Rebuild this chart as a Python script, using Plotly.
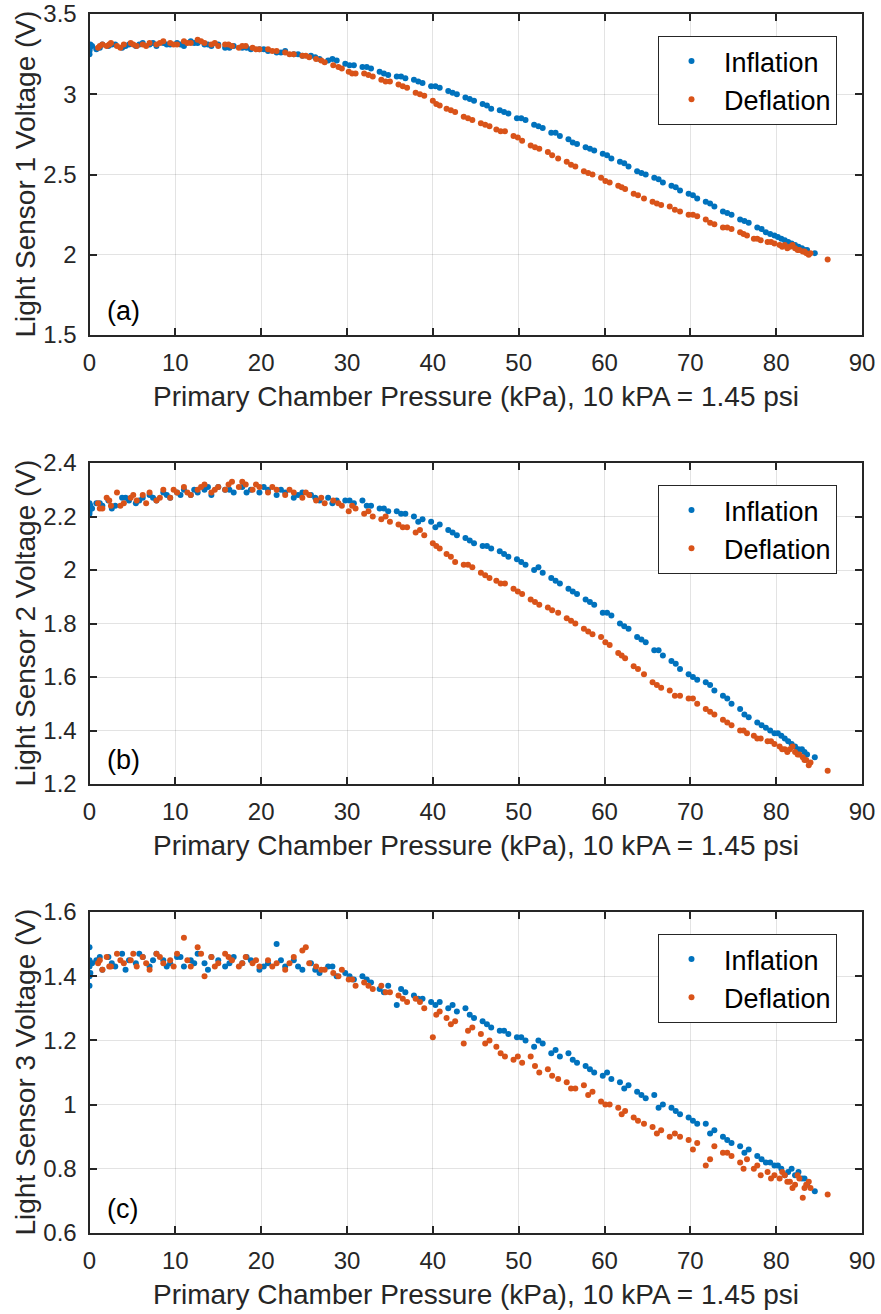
import plotly.graph_objects as go

# ---------------- data ----------------
pressure_inflation = [0.0, 0.0, 0.0, 0.3, 0.8, 1.5, 2.2, 3.0, 3.8, 4.6,
                      5.4, 6.2, 7.0, 7.8, 8.6, 9.4, 10.2, 11.0, 11.8, 12.6,
                      13.4, 14.2, 15.0, 15.8, 16.8, 17.8, 18.8, 19.8, 20.8, 21.8,
                      22.8, 23.8, 24.8, 25.8, 26.8, 27.8, 28.8, 29.8, 30.8, 31.8,
                      32.8, 33.8, 34.8, 35.8, 36.8, 37.8, 38.8, 39.8, 40.8, 41.8,
                      42.8, 43.8, 44.8, 45.8, 46.8, 47.8, 48.8, 49.8, 50.8, 51.8,
                      52.8, 53.8, 54.8, 55.8, 56.8, 57.8, 58.8, 59.8, 60.8, 61.8,
                      62.8, 63.8, 64.8, 65.8, 66.8, 67.8, 68.8, 69.8, 70.8, 71.8,
                      72.8, 73.8, 74.8, 75.8, 76.8, 77.8, 78.8, 79.8, 80.6, 81.4,
                      82.2, 83.0, 83.6, 84.5,
                      0.0, 0.0, 0.1, 1.2, 2.6, 4.2, 5.8, 7.4, 9.0, 10.6,
                      12.2, 13.8, 16.3, 18.3, 20.3, 22.3, 24.3, 26.3, 28.3, 30.3,
                      32.3, 34.3, 36.3, 38.3, 40.3, 42.3, 44.3, 46.3, 48.3, 50.3,
                      52.3, 54.3, 56.3, 58.3, 60.3, 62.3, 64.3, 66.3, 68.3, 70.3,
                      72.3, 74.3, 76.3, 78.3, 79.3, 80.2, 81.0, 81.8, 82.6, 83.3]

sensor1_inflation = [3.27, 3.29, 3.25, 3.30, 3.28, 3.31, 3.30, 3.31, 3.29, 3.31,
                     3.30, 3.32, 3.31, 3.30, 3.32, 3.31, 3.32, 3.30, 3.33, 3.32,
                     3.31, 3.30, 3.31, 3.29, 3.30, 3.29, 3.28, 3.28, 3.27, 3.26,
                     3.27, 3.25, 3.24, 3.24, 3.22, 3.21, 3.21, 3.19, 3.18, 3.17,
                     3.16, 3.14, 3.12, 3.11, 3.10, 3.09, 3.07, 3.05, 3.04, 3.02,
                     3.00, 2.98, 2.96, 2.94, 2.91, 2.90, 2.88, 2.85, 2.84, 2.81,
                     2.79, 2.76, 2.74, 2.72, 2.69, 2.67, 2.65, 2.63, 2.60, 2.58,
                     2.55, 2.52, 2.50, 2.48, 2.45, 2.43, 2.40, 2.38, 2.35, 2.33,
                     2.30, 2.27, 2.25, 2.22, 2.20, 2.17, 2.14, 2.12, 2.10, 2.08,
                     2.06, 2.04, 2.03, 2.01,
                     3.30, 3.28, 3.31, 3.29, 3.31, 3.30, 3.31, 3.32, 3.31, 3.31,
                     3.32, 3.31, 3.29, 3.29, 3.28, 3.26, 3.25, 3.23, 3.22, 3.18,
                     3.17, 3.13, 3.11, 3.08, 3.05, 3.01, 2.97, 2.93, 2.89, 2.85,
                     2.80, 2.76, 2.70, 2.66, 2.62, 2.57, 2.51, 2.47, 2.42, 2.37,
                     2.32, 2.26, 2.21, 2.16, 2.13, 2.11, 2.09, 2.07, 2.05, 2.03]

sensor2_inflation = [2.22, 2.24, 2.25, 2.23, 2.25, 2.24, 2.26, 2.24, 2.27, 2.26,
                     2.25, 2.27, 2.28, 2.26, 2.29, 2.27, 2.29, 2.30, 2.28, 2.29,
                     2.30, 2.28, 2.31, 2.30, 2.29, 2.31, 2.30, 2.29, 2.30, 2.28,
                     2.29, 2.27, 2.29, 2.28, 2.26, 2.27, 2.26, 2.26, 2.25, 2.26,
                     2.24, 2.23, 2.22, 2.22, 2.21, 2.20, 2.19, 2.18, 2.17, 2.15,
                     2.13, 2.12, 2.10, 2.09, 2.08, 2.07, 2.05, 2.04, 2.02, 2.00,
                     1.99, 1.97, 1.95, 1.93, 1.91, 1.89, 1.87, 1.84, 1.83, 1.80,
                     1.78, 1.75, 1.73, 1.70, 1.68, 1.66, 1.63, 1.61, 1.59, 1.58,
                     1.55, 1.53, 1.50, 1.48, 1.45, 1.43, 1.41, 1.39, 1.38, 1.36,
                     1.34, 1.33, 1.31, 1.30,
                     2.23, 2.21, 2.24, 2.25, 2.23, 2.27, 2.26, 2.27, 2.28, 2.28,
                     2.30, 2.31, 2.30, 2.29, 2.31, 2.30, 2.28, 2.27, 2.25, 2.26,
                     2.24, 2.23, 2.21, 2.18, 2.16, 2.14, 2.11, 2.09, 2.06, 2.03,
                     2.01, 1.96, 1.92, 1.88, 1.84, 1.79, 1.74, 1.70, 1.65, 1.60,
                     1.57, 1.52, 1.46, 1.42, 1.40, 1.39, 1.37, 1.35, 1.33, 1.32]

sensor3_inflation = [1.37, 1.49, 1.40, 1.44, 1.45, 1.42, 1.46, 1.43, 1.47, 1.45,
                     1.44, 1.46, 1.43, 1.47, 1.45, 1.44, 1.46, 1.43, 1.45, 1.47,
                     1.44, 1.46, 1.45, 1.43, 1.46, 1.44, 1.45, 1.42, 1.44, 1.50,
                     1.43, 1.45, 1.42, 1.44, 1.41, 1.43, 1.40, 1.41, 1.39, 1.40,
                     1.38, 1.36, 1.37, 1.31, 1.35, 1.34, 1.33, 1.32, 1.32, 1.30,
                     1.29, 1.30, 1.27, 1.26, 1.24, 1.23, 1.22, 1.21, 1.20, 1.18,
                     1.19, 1.16, 1.15, 1.16, 1.13, 1.12, 1.10, 1.09, 1.08, 1.07,
                     1.06, 1.04, 1.02, 1.03, 1.00, 0.99, 0.97, 0.96, 0.94, 0.94,
                     0.92, 0.90, 0.88, 0.87, 0.86, 0.84, 0.82, 0.81, 0.80, 0.79,
                     0.78, 0.77, 0.75, 0.73,
                     1.43, 1.45, 1.41, 1.46, 1.44, 1.42, 1.47, 1.45, 1.43, 1.46,
                     1.44, 1.42, 1.44, 1.46, 1.43, 1.45, 1.43, 1.42, 1.43, 1.40,
                     1.39, 1.35, 1.36, 1.33, 1.31, 1.31, 1.28, 1.25, 1.23, 1.21,
                     1.20, 1.17, 1.14, 1.11, 1.10, 1.05, 1.03, 0.99, 0.98, 0.95,
                     0.91, 0.89, 0.85, 0.83, 0.82, 0.81, 0.78, 0.80, 0.79, 0.77]

pressure_deflation = [1.0, 1.5, 2.0, 2.5, 3.2, 4.0, 4.8, 5.5, 6.2, 7.0,
                      7.8, 8.6, 9.4, 10.2, 11.0, 11.8, 12.6, 13.4, 14.2, 15.0,
                      15.8, 16.6, 17.4, 18.2, 19.0, 19.8, 20.8, 21.8, 22.8, 23.8,
                      24.8, 25.6, 26.4, 27.4, 28.4, 29.4, 30.2, 31.0, 32.0, 33.0,
                      34.0, 35.0, 36.0, 37.0, 38.0, 39.0, 40.0, 40.8, 41.6, 42.6,
                      43.6, 44.6, 45.6, 46.6, 47.4, 48.4, 49.4, 50.4, 51.4, 52.4,
                      53.4, 54.6, 55.6, 56.6, 57.6, 58.6, 59.6, 60.6, 61.6, 62.4,
                      63.4, 64.6, 65.6, 66.6, 67.6, 68.8, 69.8, 70.8, 71.8, 72.8,
                      73.8, 74.8, 75.8, 76.6, 77.4, 78.2, 79.0, 79.8, 80.4, 81.0,
                      81.6, 82.2, 82.7, 83.1, 83.5, 84.0, 86.0,
                      1.2, 2.3, 3.6, 5.1, 6.6, 8.2, 9.8, 11.4, 13.0, 14.6,
                      16.2, 17.8, 19.4, 21.3, 23.3, 25.2, 27.0, 29.0, 30.6, 32.5,
                      34.5, 36.5, 38.5, 40.4, 42.1, 44.1, 46.1, 47.9, 49.9, 51.9,
                      53.9, 56.1, 58.1, 60.1, 62.0, 63.9, 66.1, 68.2, 70.3, 72.3,
                      74.3, 76.2, 77.8, 79.4, 80.7, 81.3, 81.9, 82.5, 83.3, 83.8]

sensor1_deflation = [3.29, 3.31, 3.30, 3.32, 3.30, 3.31, 3.32, 3.30, 3.31, 3.32,
                     3.31, 3.33, 3.32, 3.31, 3.33, 3.32, 3.34, 3.32, 3.31, 3.30,
                     3.31, 3.30, 3.29, 3.30, 3.29, 3.28, 3.28, 3.27, 3.26, 3.25,
                     3.24, 3.23, 3.22, 3.20, 3.18, 3.16, 3.14, 3.13, 3.13, 3.11,
                     3.09, 3.08, 3.06, 3.04, 3.01, 2.99, 2.96, 2.93, 2.91, 2.89,
                     2.86, 2.84, 2.82, 2.80, 2.78, 2.77, 2.74, 2.71, 2.68, 2.66,
                     2.64, 2.60, 2.58, 2.55, 2.52, 2.50, 2.48, 2.45, 2.43, 2.41,
                     2.38, 2.35, 2.33, 2.31, 2.30, 2.27, 2.25, 2.24, 2.22, 2.19,
                     2.17, 2.16, 2.14, 2.12, 2.10, 2.09, 2.08, 2.07, 2.06, 2.06,
                     2.05, 2.04, 2.03, 2.02, 2.01, 2.01, 1.97,
                     3.30, 3.31, 3.29, 3.31, 3.30, 3.32, 3.31, 3.32, 3.33, 3.32,
                     3.31, 3.30, 3.28, 3.27, 3.25, 3.24, 3.21, 3.17, 3.13, 3.12,
                     3.08, 3.05, 3.00, 2.94, 2.90, 2.85, 2.81, 2.77, 2.73, 2.67,
                     2.62, 2.56, 2.51, 2.46, 2.42, 2.37, 2.32, 2.28, 2.25, 2.20,
                     2.17, 2.13, 2.10, 2.08, 2.05, 2.04, 2.06, 2.03, 2.02, 2.00]

sensor2_deflation = [2.25, 2.23, 2.27, 2.24, 2.29, 2.25, 2.27, 2.26, 2.28, 2.29,
                     2.26, 2.30, 2.27, 2.29, 2.31, 2.28, 2.30, 2.32, 2.29, 2.31,
                     2.30, 2.33, 2.31, 2.32, 2.30, 2.31, 2.29, 2.30, 2.28, 2.29,
                     2.27, 2.28, 2.26, 2.25, 2.26, 2.24, 2.22, 2.23, 2.21, 2.20,
                     2.19, 2.18, 2.17, 2.16, 2.14, 2.13, 2.10, 2.08, 2.06, 2.03,
                     2.02, 2.01, 1.99, 1.97, 1.96, 1.95, 1.93, 1.91, 1.89, 1.87,
                     1.86, 1.84, 1.82, 1.80, 1.78, 1.76, 1.75, 1.72, 1.69, 1.67,
                     1.64, 1.61, 1.58, 1.56, 1.55, 1.53, 1.52, 1.50, 1.48, 1.46,
                     1.44, 1.42, 1.40, 1.39, 1.38, 1.37, 1.36, 1.35, 1.34, 1.33,
                     1.33, 1.32, 1.31, 1.30, 1.29, 1.28, 1.25,
                     2.23, 2.26, 2.24, 2.28, 2.25, 2.27, 2.30, 2.29, 2.31, 2.30,
                     2.32, 2.33, 2.32, 2.31, 2.30, 2.29, 2.27, 2.25, 2.24, 2.22,
                     2.20, 2.16, 2.15, 2.09, 2.05, 2.02, 1.98, 1.95, 1.92, 1.88,
                     1.85, 1.81, 1.77, 1.73, 1.68, 1.63, 1.57, 1.53, 1.52, 1.47,
                     1.43, 1.40, 1.37, 1.36, 1.33, 1.32, 1.34, 1.31, 1.29, 1.27]

sensor3_deflation = [1.44, 1.42, 1.46, 1.43, 1.47, 1.44, 1.45, 1.43, 1.46, 1.42,
                     1.47, 1.44, 1.45, 1.47, 1.52, 1.43, 1.49, 1.40, 1.46, 1.44,
                     1.47, 1.45, 1.43, 1.46, 1.44, 1.43, 1.45, 1.44, 1.42, 1.46,
                     1.48, 1.44, 1.43, 1.42, 1.41, 1.42, 1.39, 1.37, 1.38, 1.36,
                     1.37, 1.35, 1.34, 1.32, 1.33, 1.30, 1.21, 1.29, 1.27, 1.26,
                     1.19, 1.24, 1.22, 1.20, 1.18, 1.15, 1.14, 1.13, 1.15, 1.10,
                     1.11, 1.08, 1.07, 1.05, 1.06, 1.04, 1.01, 1.00, 0.99, 0.98,
                     0.96, 0.94, 0.93, 0.92, 0.90, 0.90, 0.89, 0.88, 0.81, 0.87,
                     0.85, 0.84, 0.82, 0.83, 0.80, 0.78, 0.79, 0.78, 0.77, 0.78,
                     0.76, 0.75, 0.77, 0.71, 0.75, 0.74, 0.72,
                     1.45, 1.43, 1.45, 1.47, 1.44, 1.46, 1.43, 1.45, 1.47, 1.43,
                     1.46, 1.44, 1.45, 1.43, 1.44, 1.49, 1.42, 1.40, 1.39, 1.37,
                     1.35, 1.33, 1.32, 1.28, 1.25, 1.23, 1.19, 1.16, 1.15, 1.12,
                     1.09, 1.05, 1.03, 1.00, 0.97, 0.95, 0.91, 0.91, 0.86, 0.83,
                     0.85, 0.80, 0.81, 0.77, 0.79, 0.76, 0.74, 0.78, 0.74, 0.76]

x_ticks = [0, 10, 20, 30, 40, 50, 60, 70, 80, 90]
y_ticks_1 = [1.5, 2, 2.5, 3, 3.5]
y_ticks_2 = [1.2, 1.4, 1.6, 1.8, 2, 2.2, 2.4]
y_ticks_3 = [0.6, 0.8, 1, 1.2, 1.4, 1.6]
y_titles = ["Light Sensor 1 Voltage (V)", "Light Sensor 2 Voltage (V)", "Light Sensor 3 Voltage (V)"]
x_title = "Primary Chamber Pressure (kPa), 10 kPA = 1.45 psi"
panel_tags = ["(a)", "(b)", "(c)"]

for ys in (sensor1_inflation, sensor2_inflation, sensor3_inflation):
    assert len(ys) == len(pressure_inflation), len(ys)
for ys in (sensor1_deflation, sensor2_deflation, sensor3_deflation):
    assert len(ys) == len(pressure_deflation), len(ys)

# ---------------- style ----------------
W, H = 881, 1314
BLUE = "#0072BD"
ORANGE = "#D95319"
AX = "#262626"
GRID = "rgba(38,38,38,0.13)"
FONT = "Liberation Sans, Arial, sans-serif"

x_left, x_right = 89.5, 862.0
panels_px = [(14, 335), (463, 784), (912, 1233)]
yranges = [(1.5, 3.5), (1.2, 2.4), (0.6, 1.6)]
yticks = [y_ticks_1, y_ticks_2, y_ticks_3]
inf_sets = [sensor1_inflation, sensor2_inflation, sensor3_inflation]
def_sets = [sensor1_deflation, sensor2_deflation, sensor3_deflation]

def fmt(v):
    s = ("%.1f" % v)
    return s[:-2] if s.endswith(".0") else s

fig = go.Figure()
annotations = []
for i in range(3):
    n = "" if i == 0 else str(i + 1)
    leg = "legend" if i == 0 else "legend" + str(i + 1)
    top, bot = panels_px[i]
    fig.add_trace(go.Scatter(x=pressure_inflation, y=inf_sets[i], mode="markers",
                             name="Inflation", xaxis="x" + n, yaxis="y" + n, legend=leg,
                             marker=dict(color=BLUE, size=6, line=dict(width=0))))
    fig.add_trace(go.Scatter(x=pressure_deflation, y=def_sets[i], mode="markers",
                             name="Deflation", xaxis="x" + n, yaxis="y" + n, legend=leg,
                             marker=dict(color=ORANGE, size=6, line=dict(width=0))))
    axis_common = dict(showline=True, linecolor=AX, linewidth=2, mirror="ticks",
                       ticks="inside", ticklen=7, tickwidth=2, tickcolor=AX,
                       showgrid=True, gridcolor=GRID, gridwidth=1, zeroline=False,
                       automargin=False,
                       tickfont=dict(family=FONT, size=24, color=AX))
    fig.update_layout(**{
        "xaxis" + n: dict(domain=[x_left / W, x_right / W], range=[0, 90],
                          anchor="y" + n, tickvals=x_ticks, ticklabelstandoff=5,
                          ticktext=[str(t) for t in x_ticks], **axis_common),
        "yaxis" + n: dict(domain=[1 - bot / H, 1 - top / H], range=list(yranges[i]),
                          anchor="x" + n, tickvals=yticks[i], ticklabelstandoff=6,
                          ticktext=[fmt(t) for t in yticks[i]], **axis_common),
        leg: dict(x=658 / W, xanchor="left", y=1 - (top + 22) / H, yanchor="top",
                  bordercolor=AX, borderwidth=1, bgcolor="white",
                  font=dict(family=FONT, size=27, color="black"),
                  tracegroupgap=0, itemwidth=55),
    })
    annotations.append(dict(text=x_title, x=(x_left + x_right) / 2 / W, y=1 - (bot + 61) / H,
                            xref="paper", yref="paper", showarrow=False,
                            xanchor="center", yanchor="middle",
                            font=dict(family=FONT, size=28, color=AX)))
    annotations.append(dict(text=y_titles[i], x=25 / W, y=1 - (top + bot) / 2 / H,
                            xref="paper", yref="paper", showarrow=False, textangle=-90,
                            xanchor="center", yanchor="middle",
                            font=dict(family=FONT, size=28, color=AX)))
    annotations.append(dict(text=panel_tags[i], x=105 / W, y=1 - (bot - 24) / H,
                            xref="paper", yref="paper", showarrow=False,
                            xanchor="left", yanchor="middle",
                            font=dict(family=FONT, size=27, color="black")))

fig.update_layout(width=W, height=H, margin=dict(l=0, r=0, t=0, b=0),
                  paper_bgcolor="white", plot_bgcolor="white",
                  annotations=annotations, showlegend=True)

fig.write_html("out.html")
